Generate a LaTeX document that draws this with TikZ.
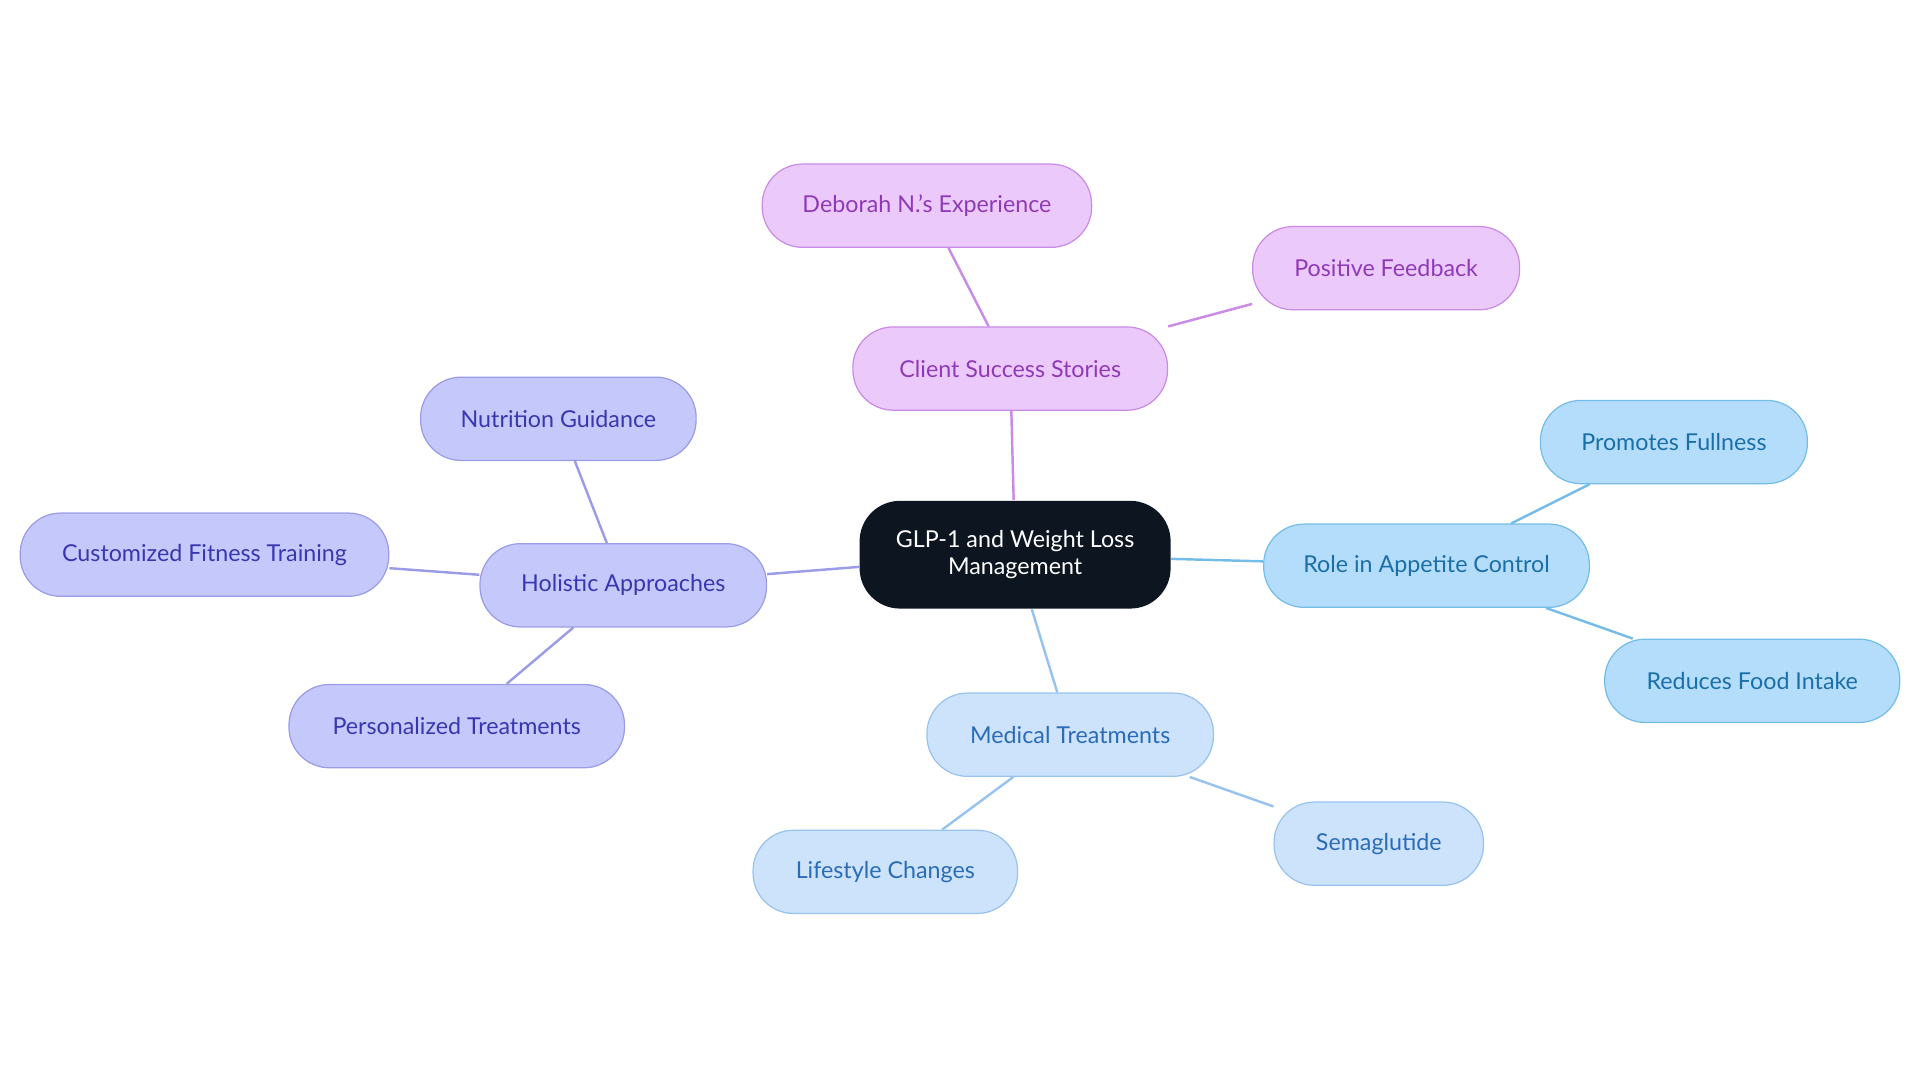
\documentclass[tikz,border=0pt]{standalone}
\usepackage{fontspec}
\setmainfont{Lato}
\begin{document}
\begin{tikzpicture}[x=1pt,y=-1pt,
 base/.style={rounded corners=33pt,minimum height=68pt,line width=1pt,font=\fontsize{19}{22}\selectfont,inner sep=0pt,align=center},
 pur/.style={base,fill=purple!0!white,fill={rgb,255:red,236;green,201;blue,251},draw={rgb,255:red,201;green,139;blue,230},text={rgb,255:red,142;green,58;blue,184}},
 ind/.style={base,fill={rgb,255:red,197;green,200;blue,251},draw={rgb,255:red,154;green,156;blue,232},text={rgb,255:red,58;green,54;blue,176}},
 sky/.style={base,fill={rgb,255:red,180;green,221;blue,251},draw={rgb,255:red,116;green,189;blue,233},text={rgb,255:red,27;green,111;blue,168}},
 lbl/.style={base,fill={rgb,255:red,205;green,227;blue,251},draw={rgb,255:red,152;green,195;blue,239},text={rgb,255:red,42;green,108;blue,184}},
 e/.style={line width=2pt}]
\useasboundingbox (0,0) rectangle (1568,884);
\node[base,fill={rgb,255:red,13;green,22;blue,32},text=white,minimum width=254pt,minimum height=88pt] (c) at (829,453) {GLP-1 and Weight Loss\\Management};
\node[pur,minimum width=257pt] (cs) at (825,301) {Client Success Stories};
\node[pur,minimum width=269pt] (db) at (757,168) {Deborah N.'s Experience};
\node[pur,minimum width=218pt] (pf) at (1132,219) {Positive Feedback};
\node[ind,minimum width=234pt] (ha) at (509,478) {Holistic Approaches};
\node[ind,minimum width=225pt] (ng) at (456,342) {Nutrition Guidance};
\node[ind,minimum width=301pt] (cf) at (167,453) {Customized Fitness Training};
\node[ind,minimum width=274pt] (pt) at (373,593) {Personalized Treatments};
\node[sky,minimum width=266pt] (ra) at (1165,462) {Role in Appetite Control};
\node[sky,minimum width=218pt] (pr) at (1367,361) {Promotes Fullness};
\node[sky,minimum width=241pt] (rf) at (1431,556) {Reduces Food Intake};
\node[lbl,minimum width=234pt] (mt) at (874,600) {Medical Treatments};
\node[lbl,minimum width=216pt] (lc) at (723,712) {Lifestyle Changes};
\node[lbl,minimum width=171pt] (sg) at (1126,689) {Semaglutide};
\begin{scope}[on background layer/.style={}]
\draw[e,draw={rgb,255:red,201;green,139;blue,230}] (c) -- (cs) (cs) -- (db) (cs) -- (pf);
\draw[e,draw={rgb,255:red,154;green,156;blue,232}] (c) -- (ha) (ha) -- (ng) (ha) -- (cf) (ha) -- (pt);
\draw[e,draw={rgb,255:red,116;green,189;blue,233}] (c) -- (ra) (ra) -- (pr) (ra) -- (rf);
\draw[e,draw={rgb,255:red,152;green,195;blue,239}] (c) -- (mt) (mt) -- (lc) (mt) -- (sg);
\end{scope}
\end{tikzpicture}
\end{document}
